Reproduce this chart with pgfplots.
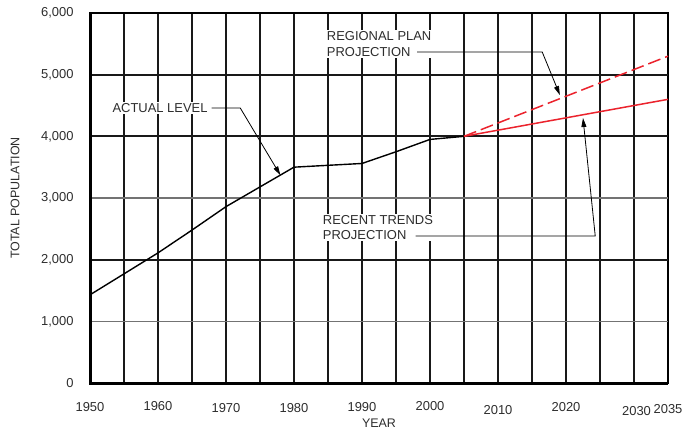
\documentclass[border=0pt]{standalone}
\usepackage{pgfplots}
\pgfplotsset{compat=1.18}
\usepackage{fontspec}
\setmainfont{Liberation Sans}
\usetikzlibrary{arrows.meta}
\definecolor{projred}{RGB}{235,35,45}
\definecolor{txt}{RGB}{45,45,45}
\newcommand{\dn}[2]{\raisebox{-#1bp}[\height][\depth]{#2}}
\begin{document}
\fontsize{13}{15.5}\selectfont
\begin{tikzpicture}
\begin{axis}[
  scale only axis, width=578bp, height=370bp,
  xmin=1950, xmax=2035, ymin=0, ymax=6000,
  xtick={1950,1960,1970,1980,1990,2000,2010,2020,2030,2035},
  xticklabels={\dn{0}{1950},\dn{-1}{1960},\dn{1}{1970},\dn{1}{1980},\dn{0}{1990},\dn{-1}{2000},\dn{3}{2010},\dn{0}{2020},\dn{4}{\hspace*{5bp}2030},\dn{2}{2035}},
  minor xtick={1955,1965,1975,1985,1995,2005,2015,2025},
  ytick={0,1000,2000,3000,4000,5000,6000},
  yticklabels={0,{1,000},{2,000},{3,000},{4,000},{5,000},{6,000}},
  /pgf/number format/assume math mode=true,
  tick style={draw=none},
  xmajorgrids, xminorgrids,
  major grid style={draw=black!90, line width=1.4bp},
  minor grid style={draw=black!90, line width=1.4bp},
  axis line style={line width=1.6bp, black},
  ticklabel style={font=\fontsize{13}{15}\selectfont, text=txt},
  xticklabel style={yshift=-15bp},
  yticklabel style={xshift=-12bp},
  xlabel={YEAR}, ylabel={TOTAL POPULATION},
  label style={font=\fontsize{12.5}{15}\selectfont, text=txt},
  xlabel style={at={(rel axis cs:0.5,-0.108)}, anchor=center},
  ylabel style={at={(rel axis cs:-0.1298,0.5)}, anchor=center},
  clip=false,
]
\coordinate (SW) at (rel axis cs:0,0);
\coordinate (NE) at (rel axis cs:1,1);
% horizontal grid lines
\draw[black!55, line width=1.1bp] (axis cs:1950,1000) -- (axis cs:2035,1000);
\draw[black!55, line width=1.1bp] (axis cs:1950,3000) -- (axis cs:2035,3000);
\draw[black!90, line width=1.8bp] (axis cs:1950,2000) -- (axis cs:2035,2000);
\draw[black!90, line width=1.8bp] (axis cs:1950,4000) -- (axis cs:2035,4000);
\draw[black!90, line width=1.8bp] (axis cs:1950,5000) -- (axis cs:2035,5000);
\draw[line width=3bp, black] (rel axis cs:0,1) -- (rel axis cs:0,0) -- (rel axis cs:1,0);

\addplot[black, line width=1.4bp] coordinates {(1950,1430)(1955,1770)(1960,2110)(1965,2480)(1970,2860)(1980,3500)(1990,3560)(1995,3750)(2000,3950)(2005,4000)};
\addplot[projred, line width=1.5bp, dash pattern=on 13bp off 5bp] coordinates {(2005,4000)(2035,5300)};
\addplot[projred, line width=1.5bp] coordinates {(2005,4000)(2035,4600)};

% annotations
\node[fill=white, inner sep=1.5bp, text=txt] at (axis cs:1960.3,4459) {ACTUAL LEVEL};
\draw[line width=0.8bp, -{Triangle[length=9bp,width=5bp]}] (axis cs:1967.9,4459) -- (axis cs:1972.1,4459) -- (axis cs:1978.0,3370);

\node[fill=white, inner sep=1.5bp, text=txt, align=left, anchor=west] at (axis cs:1984.6,5495) {REGIONAL PLAN\\PROJECTION};
\draw[line width=0.8bp, -{Triangle[length=9bp,width=5bp]}] (axis cs:1998.1,5368) -- (axis cs:2016.5,5368) -- (axis cs:2019.1,4670);

\node[fill=white, inner sep=1.5bp, text=txt, align=left, anchor=west] at (axis cs:1984.0,2520) {RECENT TRENDS\\PROJECTION};
\draw[line width=0.8bp, -{Triangle[length=9bp,width=5bp]}] (axis cs:1997.9,2384) -- (axis cs:2024.3,2384) -- (axis cs:2022.5,4297);
\end{axis}
\pgfresetboundingbox
\path[use as bounding box] ([shift={(-90bp,-50bp)}]SW) rectangle ([shift={(14bp,13bp)}]NE);
\end{tikzpicture}
\end{document}
